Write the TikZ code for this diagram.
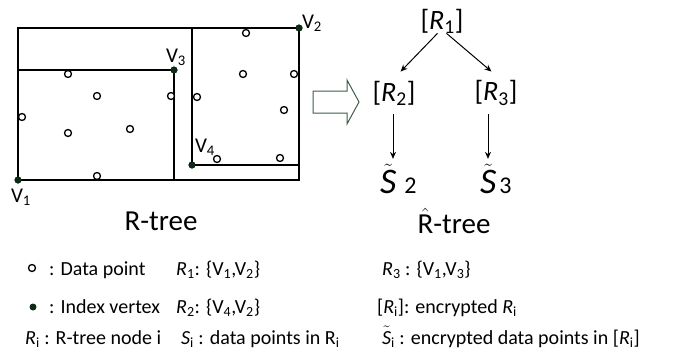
\documentclass[tikz,border=0pt]{standalone}
\usepackage{fontspec}
\setmainfont{Carlito}
\usepackage{tikz}
\usetikzlibrary{arrows.meta,positioning}
\definecolor{vertexgreen}{HTML}{0E2A16}
\definecolor{hollowgreen}{HTML}{3E5E48}
\tikzset{
  datapt/.style={
    circle, draw=black, line width=1.3pt, fill=white,
    minimum size=7pt, inner sep=0pt
  },
  vertex/.style={circle, fill=vertexgreen, minimum size=7pt, inner sep=0pt},
  vlabel/.style={font=\fontsize{21}{21}\selectfont, inner sep=0pt},
  mbrline/.style={line width=1.6pt, draw=black},
  treenode/.style={font=\fontsize{28}{28}\selectfont, inner sep=0pt},
  leafnode/.style={font=\fontsize{36}{36}\selectfont\itshape, inner sep=0pt, anchor=base west},
  caption/.style={font=\fontsize{29}{29}\selectfont, inner sep=0pt},
  legendtext/.style={font=\fontsize{20}{20}\selectfont, inner sep=0pt, anchor=base west},
  arrow/.style={-{Stealth[length=7pt,width=6pt]}, line width=1pt, draw=black},
  hollowarrow/.style={draw=hollowgreen, line width=1pt, fill=white}
}

\begin{document}
\begin{tikzpicture}[x=1pt,y=-1pt]
  \useasboundingbox (0,0) rectangle (683,362);

  % Index vertices
  \node[vertex] (v1) at (18,180) {};
  \node[vertex] (v2) at (299,28) {};
  \node[vertex] (v3) at (174,70) {};
  \node[vertex] (v4) at (192,165) {};

  % Rectangles of the R-tree
  \draw[mbrline] (v1.center) rectangle (v2.center);
  \draw[mbrline] (v1.center |- v3.center) -- (v3.center) -- (v3.center |- v1.center);
  \draw[mbrline] (v4.center |- v2.center) -- (v4.center) -- (v4.center -| v2.center);

  % Vertices drawn again over the lines
  \node[vertex] at (v1) {};
  \node[vertex] at (v2) {};
  \node[vertex] at (v3) {};
  \node[vertex] at (v4) {};

  % Vertex labels
  \node[vlabel] (v1lab) at (21,197) {V\textsubscript{1}};
  \node[vlabel] (v2lab) at (312,23) {V\textsubscript{2}};
  \node[vlabel] (v3lab) at (176,57) {V\textsubscript{3}};
  \node[vlabel] (v4lab) at (205,147) {V\textsubscript{4}};

  % Data points
  \node[datapt] (p1) at (68,74) {};
  \node[datapt] (p2) at (97,96) {};
  \node[datapt] (p3) at (171,96) {};
  \node[datapt] (p4) at (22,117) {};
  \node[datapt] (p5) at (68,133) {};
  \node[datapt] (p6) at (130,129) {};
  \node[datapt] (p7) at (97,176) {};
  \node[datapt] (p8) at (246,33) {};
  \node[datapt] (p9) at (243,74) {};
  \node[datapt] (p10) at (294,74) {};
  \node[datapt] (p11) at (197,97) {};
  \node[datapt] (p12) at (284,110) {};
  \node[datapt] (p13) at (217,159) {};
  \node[datapt] (p14) at (280,158) {};

  % Hollow arrow
  \draw[hollowarrow] (313,91) -- (347,91) -- (347,80) -- (359,102)
    -- (347,124) -- (347,113) -- (313,113) -- cycle;

  % Encrypted tree
  \node[treenode] (r1) at (442,21) {[\textit{R}\textsubscript{1}]};
  \node[treenode] (r2) at (394,93) {[\textit{R}\textsubscript{2}]};
  \node[treenode] (r3) at (496,93) {[\textit{R}\textsubscript{3}]};

  \node[leafnode] (s2) at (380,193)
  {$\tilde{\mbox{S}}$\hspace{8pt}{\upshape\fontsize{24}{24}\selectfont 2}};
  \node[leafnode] (s3) at (480,193)
  {$\tilde{\mbox{S}}$\hspace{3pt}{\upshape\fontsize{24}{24}\selectfont 3}};

  \coordinate[left=1pt of r2.south] (r2stem);
  \coordinate[left=8pt of r3.south] (r3stem);

  \draw[arrow] (r1.-110) -- ([yshift=9pt]r2.62);
  \draw[arrow] (r1.-70) -- ([yshift=9pt]r3.110);
  \draw[arrow, shorten <=9pt, shorten >=5pt] (r2stem) -- (r2stem |- s2.north);
  \draw[arrow, shorten <=9pt, shorten >=5pt] (r3stem) -- (r3stem |- s3.north);

  % Captions
  \node[caption] (rtree) at (161,221) {R-tree};
  \node[caption] (erttree) at (454,221) {$\hat{\mbox{R}}$-tree};

  % Legend
  \node[datapt] (legpt) at (32,268) {};
  \node[legendtext] (leg1) at (49,275) {: Data point};
  \node[vertex] (legvx) at (33,307) {};
  \node[legendtext] (leg2) at (49,313) {: Index vertex};
  \node[legendtext] (leg3) at (25,344) {\textit{R}\textsubscript{i} : R-tree node i};

  \node[legendtext] (leg4) at (176,275) {\textit{R}\textsubscript{1}: \{V\textsubscript{1},V\textsubscript{2}\}};
  \node[legendtext] (leg5) at (176,313) {\textit{R}\textsubscript{2}: \{V\textsubscript{4},V\textsubscript{2}\}};
  \node[legendtext] (leg6) at (181,344) {\textit{S}\textsubscript{i} : data points in R\textsubscript{i}};

  \node[legendtext] (leg7) at (382,275) {\textit{R}\textsubscript{3} : \{V\textsubscript{1},V\textsubscript{3}\}};
  \node[legendtext] (leg8) at (377,313) {[\textit{R}\textsubscript{i}]: encrypted \textit{R}\textsubscript{i}};
  \node[legendtext] (leg9) at (382,344)
  {$\tilde{\mbox{\itshape S}}$\textsubscript{i} : encrypted data points in [\textit{R}\textsubscript{i}]};

\end{tikzpicture}
\end{document}
